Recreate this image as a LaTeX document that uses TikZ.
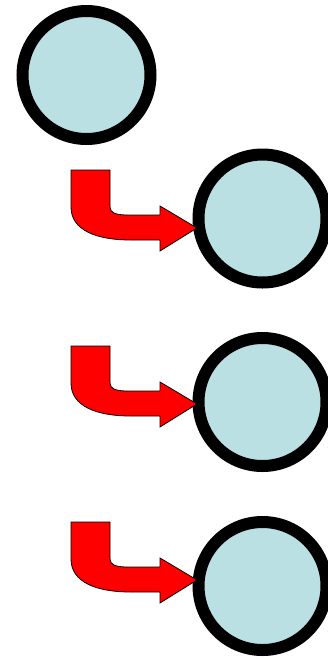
\documentclass[tikz,border=0pt]{standalone}
\definecolor{ringfill}{RGB}{186,224,228}
\tikzset{
  ring/.style={circle, draw=black, line width=12pt, fill=ringfill, minimum size=128pt, inner sep=0pt},
  bentarrow/.style={fill=red, draw=black, line width=0.8pt, line join=miter},
  pics/bent/.style={code={
    \path[bentarrow] (0,0) -- (39,0) -- (39,37) .. controls (39,43) and (45,45) .. (57,45)
      -- (89,45) -- (89,36) -- (126,58) -- (89,81) -- (89,70) -- (60,70)
      .. controls (25,70) and (0,60) .. (0,37) -- cycle;
  }}
}
\begin{document}
\begin{tikzpicture}[x=1pt,y=-1pt]
\useasboundingbox (0,0) rectangle (327,659);
\node[ring] (c1) at (86.5,75) {};
\node[ring] (c2) at (262.5,218.5) {};
\node[ring] (c3) at (262.5,402) {};
\node[ring] (c4) at (262.5,586) {};
\pic (a1) at (71,170) {bent};
\pic (a2) at (71,346) {bent};
\pic (a3) at (71,522) {bent};
\end{tikzpicture}
\end{document}
